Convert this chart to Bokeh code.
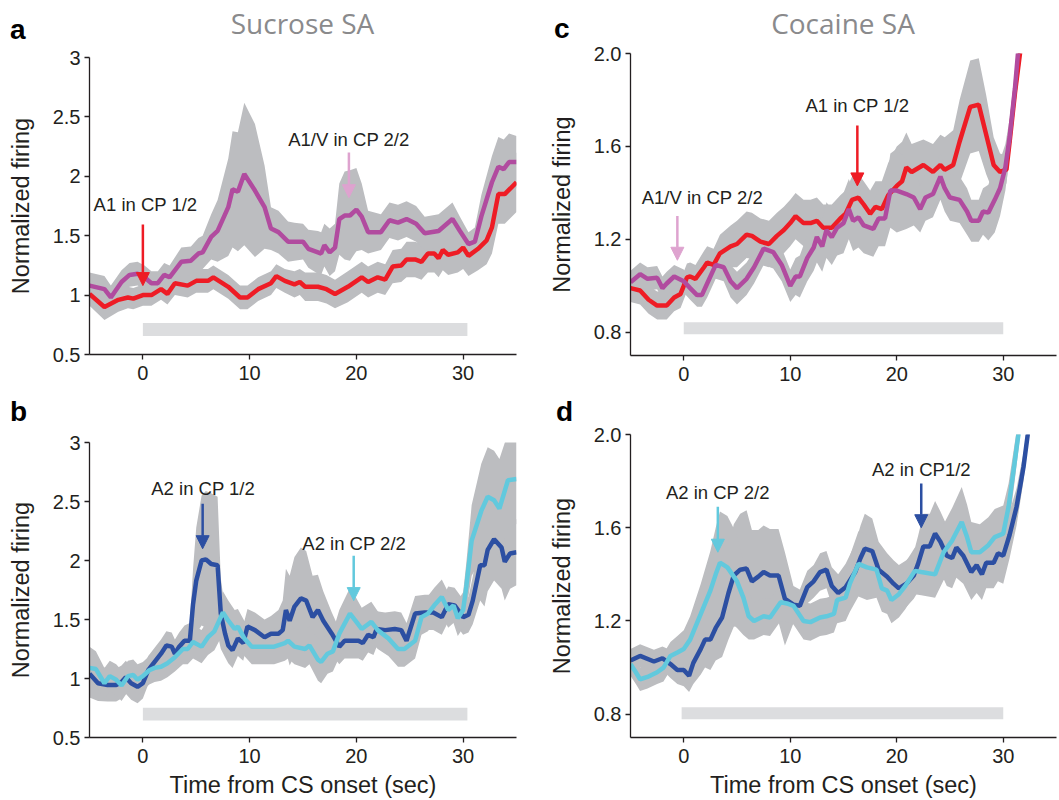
from bokeh.plotting import figure
from bokeh.layouts import row, column
from bokeh.models import Label, Arrow, NormalHead, FixedTicker, Range1d, Div
from bokeh.embed import file_html
from bokeh.resources import INLINE

# ---------------- data ----------------
# Panel a (Sucrose SA): red = A1 in CP 1/2, purple = A1/V in CP 2/2
t_a_red = [-5, -3.6, -2.3, -1.4, -0.9, 0, 0.8, 1.7, 2.3, 3.0, 4.2, 5.0, 6.1, 6.6, 8.0, 9.1, 9.8, 10.8, 12.0, 12.5,
           13.3, 14.2, 14.7, 15.2, 16.4, 17.2, 18.0, 19.2, 20.5, 21.1, 22.0, 22.7, 23.4, 24.2, 24.7, 25.5, 26.1, 26.7, 27.3, 27.7,
           28.1, 28.6, 29.5, 30.0, 30.5, 31.4, 32.2, 32.7, 33.3, 33.9, 35]
a_red = [1.01, 0.90, 0.96, 0.98, 0.97, 1.0, 1.0, 1.05, 1.01, 1.10, 1.08, 1.12, 1.12, 1.15, 1.07, 0.98, 0.98, 1.05, 1.10, 1.16,
         1.12, 1.09, 1.11, 1.07, 1.07, 1.05, 1.01, 1.07, 1.15, 1.11, 1.15, 1.13, 1.24, 1.25, 1.30, 1.30, 1.28, 1.35, 1.35, 1.31,
         1.38, 1.34, 1.36, 1.40, 1.33, 1.39, 1.46, 1.57, 1.85, 1.85, 1.95]
a_red_sem = [0.10, 0.11, 0.10, 0.09, 0.09, 0.09, 0.09, 0.09, 0.09, 0.10, 0.10, 0.10, 0.10, 0.10, 0.10, 0.10, 0.10, 0.10, 0.10, 0.10,
             0.10, 0.11, 0.11, 0.12, 0.12, 0.12, 0.12, 0.13, 0.13, 0.13, 0.13, 0.13, 0.14, 0.14, 0.15, 0.15, 0.15, 0.16, 0.16, 0.16,
             0.17, 0.17, 0.17, 0.18, 0.17, 0.18, 0.20, 0.22, 0.25, 0.25, 0.25]

t_a_pur = [-5, -3.6, -3.0, -2.0, -1.25, -0.5, 0.15, 0.8, 1.4, 2.0, 2.5, 3.6, 4.5, 5.2, 5.6, 6.4, 7.0, 8.0, 8.4, 8.9,
           9.5, 10.5, 11.4, 12.0, 12.7, 13.6, 14.2, 15.0, 15.5, 16.4, 16.7, 17.0, 17.5, 18.0, 18.4, 18.9, 19.4, 20.0, 20.5, 21.1,
           22.3, 23.1, 23.9, 24.7, 25.6, 26.4, 27.7, 29.0, 29.7, 30.5, 31.1, 31.7, 32.7, 33.3, 33.8, 34.3, 35]
a_pur = [1.08, 1.05, 0.98, 1.11, 1.17, 1.18, 1.15, 1.10, 1.10, 1.17, 1.15, 1.28, 1.29, 1.35, 1.36, 1.49, 1.54, 1.74, 1.89, 1.87,
         2.02, 1.88, 1.74, 1.56, 1.53, 1.45, 1.45, 1.45, 1.39, 1.36, 1.35, 1.42, 1.36, 1.40, 1.64, 1.67, 1.67, 1.72, 1.66, 1.53,
         1.53, 1.63, 1.61, 1.64, 1.60, 1.52, 1.54, 1.64, 1.54, 1.43, 1.45, 1.66, 1.95, 2.08, 2.06, 2.12, 2.12]
a_pur_sem = [0.11, 0.11, 0.10, 0.10, 0.10, 0.10, 0.10, 0.10, 0.10, 0.10, 0.10, 0.12, 0.12, 0.13, 0.14, 0.19, 0.26, 0.41, 0.49, 0.50,
             0.60, 0.56, 0.35, 0.18, 0.18, 0.17, 0.16, 0.15, 0.16, 0.18, 0.18, 0.18, 0.20, 0.20, 0.30, 0.37, 0.38, 0.35, 0.28, 0.18,
             0.15, 0.15, 0.15, 0.15, 0.15, 0.14, 0.14, 0.14, 0.12, 0.10, 0.12, 0.18, 0.22, 0.25, 0.25, 0.24, 0.22]

# Panel b (Sucrose SA): dark blue = A2 in CP 1/2, cyan = A2 in CP 2/2
t_b_blue = [-5, -4.2, -3.3, -2.5, -2.0, -1.6, -1.1, -0.5, 0, 0.5, 1.1, 1.7, 2.2, 2.7, 3.0, 3.4, 3.9, 4.4, 4.7, 5.0,
            5.5, 5.9, 6.4, 7.0, 7.3, 7.7, 8.0, 8.4, 8.9, 9.4, 9.8, 10.5, 11.4, 12.0, 12.7, 13.1, 13.4, 13.75, 14.2, 14.8,
            15.3, 15.9, 16.4, 16.9, 17.7, 18.4, 18.9, 20.2, 20.6, 21.1, 21.6, 21.9, 22.7, 23.6, 24.2, 24.7, 25.5, 26.4, 27.2, 28.0,
            28.6, 29.2, 30.0, 30.5, 30.9, 31.6, 32.0, 32.3, 32.9, 33.6, 33.9, 34.4, 35]
b_blue = [1.04, 0.96, 0.945, 0.945, 0.97, 1.01, 0.96, 0.93, 0.96, 1.07, 1.14, 1.21, 1.28, 1.27, 1.21, 1.27, 1.32, 1.32, 1.63, 1.83,
          2.0, 2.01, 1.97, 1.96, 1.55, 1.38, 1.28, 1.24, 1.34, 1.30, 1.44, 1.41, 1.35, 1.38, 1.38, 1.41, 1.58, 1.49, 1.61, 1.68,
          1.66, 1.52, 1.58, 1.49, 1.38, 1.27, 1.32, 1.32, 1.30, 1.37, 1.35, 1.42, 1.41, 1.42, 1.41, 1.32, 1.55, 1.56, 1.56, 1.52,
          1.63, 1.62, 1.52, 1.54, 1.66, 1.96, 1.96, 2.09, 2.18, 2.11, 1.99, 2.06, 2.07]
b_blue_sem = [0.20, 0.15, 0.14, 0.14, 0.14, 0.14, 0.14, 0.14, 0.13, 0.12, 0.12, 0.12, 0.12, 0.12, 0.12, 0.12, 0.13, 0.15, 0.30, 0.45,
              0.55, 0.58, 0.60, 0.58, 0.30, 0.20, 0.15, 0.15, 0.15, 0.15, 0.15, 0.15, 0.15, 0.15, 0.20, 0.25, 0.35, 0.38, 0.42, 0.43,
              0.42, 0.35, 0.30, 0.25, 0.18, 0.15, 0.15, 0.15, 0.15, 0.15, 0.15, 0.15, 0.15, 0.15, 0.15, 0.15, 0.15, 0.15, 0.15, 0.15,
              0.15, 0.15, 0.15, 0.15, 0.20, 0.30, 0.35, 0.35, 0.35, 0.35, 0.33, 0.30, 0.28]

t_b_cyan = [-5, -4.4, -3.6, -3.1, -2.5, -2.0, -1.4, -0.9, -0.5, 0, 0.6, 1.1, 1.7, 2.3, 3.0, 3.75, 4.2, 4.7, 5.5, 6.1,
            6.7, 7.5, 8.0, 8.6, 8.9, 9.5, 10.2, 11.1, 12.3, 13.3, 13.6, 14.2, 15.2, 15.6, 16.4, 16.7, 17.3, 17.8, 18.4, 19.4,
            20.0, 20.5, 21.4, 22.0, 23.0, 23.9, 24.5, 25.5, 26.1, 26.7, 27.3, 28.0, 28.6, 29.1, 29.5, 30.0, 30.3, 30.8, 31.7, 32.3,
            32.9, 33.4, 34.2, 35]
b_cyan = [1.09, 1.08, 0.96, 1.02, 0.99, 0.94, 1.02, 1.03, 0.99, 1.02, 1.07, 1.09, 1.10, 1.13, 1.18, 1.25, 1.25, 1.31, 1.27, 1.35,
          1.40, 1.56, 1.49, 1.42, 1.44, 1.34, 1.27, 1.27, 1.27, 1.30, 1.32, 1.27, 1.25, 1.28, 1.16, 1.14, 1.21, 1.23, 1.38, 1.55,
          1.48, 1.42, 1.48, 1.41, 1.34, 1.25, 1.25, 1.32, 1.52, 1.55, 1.62, 1.69, 1.58, 1.62, 1.51, 1.58, 1.78, 2.17, 2.42, 2.54,
          2.51, 2.44, 2.68, 2.69]
b_cyan_sem = [0.18, 0.15, 0.13, 0.13, 0.13, 0.13, 0.13, 0.13, 0.13, 0.12, 0.12, 0.12, 0.12, 0.12, 0.12, 0.13, 0.13, 0.14, 0.14, 0.15,
              0.16, 0.18, 0.17, 0.16, 0.15, 0.15, 0.15, 0.15, 0.15, 0.15, 0.15, 0.15, 0.16, 0.16, 0.18, 0.18, 0.17, 0.17, 0.20, 0.22,
              0.20, 0.18, 0.17, 0.16, 0.15, 0.15, 0.15, 0.15, 0.15, 0.15, 0.15, 0.15, 0.15, 0.15, 0.15, 0.15, 0.20, 0.30, 0.40, 0.42,
              0.42, 0.42, 0.40, 0.38]

# Panel c (Cocaine SA): red = A1 in CP 1/2, purple = A1/V in CP 2/2
t_c_red = [-5, -4.1, -3.3, -2.5, -1.6, -0.9, -0.3, 0, 0.3, 0.6, 1.1, 1.9, 2.2, 2.8, 3.4, 4.4, 5.0, 5.9, 6.4, 7.2,
           8.0, 8.75, 9.4, 10.0, 10.5, 11.25, 11.9, 12.5, 13.1, 13.9, 14.7, 15.2, 15.8, 16.4, 16.9, 17.5, 18.0, 18.6, 19.2, 20.0,
           20.5, 20.9, 21.4, 22.5, 23.4, 24.1, 24.5, 25.3, 25.9, 26.9, 27.7, 28.4, 29.1, 29.7, 30.3, 30.6, 31.1, 31.6, 31.9]
c_red = [0.99, 0.98, 0.94, 0.915, 0.915, 0.95, 0.965, 1.0, 1.036, 1.04, 1.03, 1.08, 1.10, 1.09, 1.14, 1.17, 1.18, 1.22, 1.215, 1.19,
         1.18, 1.215, 1.24, 1.27, 1.30, 1.27, 1.27, 1.28, 1.25, 1.25, 1.29, 1.31, 1.37, 1.38, 1.35, 1.31, 1.34, 1.33, 1.39, 1.43,
         1.45, 1.51, 1.49, 1.52, 1.49, 1.52, 1.50, 1.52, 1.62, 1.77, 1.78, 1.65, 1.52, 1.49, 1.50, 1.62, 1.83, 2.01, 2.18]
c_red_sem = [0.06, 0.06, 0.06, 0.06, 0.06, 0.06, 0.06, 0.06, 0.06, 0.06, 0.06, 0.07, 0.07, 0.07, 0.08, 0.09, 0.10, 0.10, 0.10, 0.10,
             0.10, 0.10, 0.10, 0.10, 0.10, 0.10, 0.10, 0.10, 0.10, 0.10, 0.10, 0.10, 0.10, 0.10, 0.10, 0.10, 0.11, 0.12, 0.14, 0.17,
             0.17, 0.15, 0.12, 0.11, 0.12, 0.13, 0.14, 0.15, 0.18, 0.20, 0.20, 0.17, 0.12, 0.08, 0.06, 0.06, 0.06, 0.06, 0.06]

t_c_pur = [-5, -4.1, -3.4, -2.5, -2.0, -1.6, -0.9, 0, 0.6, 1.25, 1.7, 2.2, 3.0, 3.75, 4.4, 5.0, 5.9, 6.6, 7.5, 8.4,
           9.2, 10.0, 10.5, 10.9, 11.6, 12.2, 12.5, 13.0, 13.4, 13.9, 14.4, 15.0, 15.5, 15.9, 16.4, 16.9, 17.8, 18.3, 18.9, 19.4,
           20.0, 20.9, 21.6, 22.2, 22.7, 23.4, 24.1, 24.5, 25.0, 25.9, 26.6, 27.0, 27.7, 28.1, 28.6, 29.2, 29.7, 30.2, 30.6, 31.1,
           31.4, 31.7]
c_pur = [1.015, 1.05, 1.03, 1.035, 0.99, 1.01, 1.04, 1.02, 0.99, 0.96, 0.96, 1.01, 1.09, 1.08, 1.02, 0.99, 1.03, 1.08, 1.16, 1.145,
         1.09, 1.0, 1.04, 1.04, 1.12, 1.165, 1.21, 1.17, 1.24, 1.21, 1.25, 1.27, 1.33, 1.28, 1.295, 1.26, 1.245, 1.29, 1.29, 1.41,
         1.41, 1.395, 1.38, 1.33, 1.38, 1.395, 1.47, 1.42, 1.38, 1.37, 1.32, 1.28, 1.28, 1.32, 1.315, 1.37, 1.42, 1.51, 1.64, 1.85,
         2.01, 2.15]
c_pur_sem = [0.05, 0.05, 0.05, 0.05, 0.05, 0.05, 0.05, 0.05, 0.05, 0.05, 0.05, 0.06, 0.06, 0.06, 0.07, 0.07, 0.07, 0.07, 0.07, 0.07,
             0.07, 0.07, 0.08, 0.09, 0.10, 0.10, 0.11, 0.11, 0.12, 0.12, 0.12, 0.13, 0.13, 0.13, 0.13, 0.12, 0.12, 0.12, 0.12, 0.16,
             0.18, 0.15, 0.12, 0.10, 0.10, 0.10, 0.10, 0.10, 0.10, 0.10, 0.10, 0.09, 0.09, 0.10, 0.12, 0.14, 0.12, 0.10, 0.08, 0.08,
             0.08, 0.08]

# Panel d (Cocaine SA): dark blue = A2 in CP 1/2, cyan = A2 in CP 2/2
t_d_blue = [-5, -4.1, -2.8, -2.0, -1.25, -0.6, 0, 0.5, 0.9, 1.6, 2.0, 2.5, 3.0, 3.6, 4.2, 4.7, 5.3, 5.9, 6.4, 7.0,
            7.5, 8.1, 8.9, 9.5, 10.3, 10.9, 11.6, 12.2, 12.8, 13.4, 13.9, 14.5, 15.2, 16.1, 16.6, 17.0, 17.7, 18.3, 19.1, 19.7,
            20.2, 20.9, 21.6, 22.0, 22.5, 23.1, 23.6, 24.1, 24.7, 25.2, 25.6, 26.25, 27.0, 27.5, 28.0, 28.4, 29.1, 29.5, 30.0, 30.6,
            31.25, 31.9, 32.3, 32.5]
d_blue = [1.03, 1.05, 1.026, 1.04, 1.015, 0.99, 0.99, 0.965, 1.02, 1.08, 1.12, 1.12, 1.17, 1.215, 1.32, 1.395, 1.42, 1.425, 1.37, 1.39,
          1.41, 1.395, 1.395, 1.295, 1.27, 1.265, 1.345, 1.37, 1.41, 1.42, 1.35, 1.32, 1.345, 1.41, 1.47, 1.51, 1.50, 1.42, 1.39, 1.36,
          1.34, 1.36, 1.395, 1.445, 1.52, 1.52, 1.575, 1.54, 1.48, 1.47, 1.515, 1.48, 1.41, 1.44, 1.40, 1.45, 1.45, 1.49, 1.48, 1.57,
          1.69, 1.86, 2.0, 2.09]
d_blue_sem = [0.05, 0.05, 0.05, 0.05, 0.06, 0.06, 0.07, 0.07, 0.09, 0.11, 0.12, 0.13, 0.14, 0.17, 0.20, 0.22, 0.24, 0.25, 0.22, 0.20,
              0.20, 0.20, 0.20, 0.20, 0.08, 0.07, 0.07, 0.07, 0.08, 0.08, 0.08, 0.08, 0.10, 0.12, 0.14, 0.15, 0.14, 0.12, 0.10, 0.10,
              0.10, 0.10, 0.10, 0.12, 0.14, 0.14, 0.14, 0.13, 0.13, 0.13, 0.13, 0.12, 0.12, 0.12, 0.11, 0.11, 0.11, 0.12, 0.12, 0.10,
              0.08, 0.06, 0.05, 0.05]

t_d_cyan = [-5, -4.5, -4.1, -3.4, -2.5, -1.9, -1.25, -0.6, 0, 0.6, 1.6, 2.5, 3.0, 3.4, 4.1, 5.0, 5.6, 6.1, 6.6, 7.5,
            8.1, 9.1, 9.7, 10.3, 11.25, 11.9, 12.8, 13.4, 14.1, 14.4, 15.2, 15.6, 16.4, 17.2, 18.1, 18.6, 19.1, 19.5, 20.2, 20.8,
            21.7, 22.3, 23.6, 24.4, 25.2, 26.1, 26.6, 27.0, 27.8, 28.6, 29.2, 30.0, 30.5, 31.1, 31.6]
d_cyan = [1.015, 0.98, 0.95, 0.96, 0.98, 1.0, 1.05, 1.065, 1.08, 1.12, 1.23, 1.33, 1.40, 1.45, 1.43, 1.37, 1.30, 1.22, 1.20, 1.22,
          1.215, 1.28, 1.275, 1.265, 1.20, 1.195, 1.215, 1.22, 1.23, 1.29, 1.30, 1.36, 1.445, 1.43, 1.42, 1.34, 1.33, 1.29, 1.315, 1.35,
          1.415, 1.41, 1.40, 1.495, 1.545, 1.625, 1.56, 1.495, 1.495, 1.525, 1.56, 1.575, 1.69, 1.89, 2.06]
d_cyan_sem = [0.05, 0.05, 0.05, 0.05, 0.05, 0.06, 0.06, 0.07, 0.08, 0.10, 0.13, 0.17, 0.20, 0.22, 0.22, 0.20, 0.16, 0.10, 0.08, 0.08,
              0.08, 0.08, 0.08, 0.08, 0.08, 0.08, 0.08, 0.08, 0.08, 0.10, 0.10, 0.12, 0.14, 0.14, 0.12, 0.10, 0.10, 0.10, 0.10, 0.10,
              0.10, 0.10, 0.10, 0.12, 0.14, 0.15, 0.14, 0.13, 0.12, 0.12, 0.12, 0.12, 0.10, 0.08, 0.06]

# CS presentation period (sec) per panel a, b, c, d
cs_start = [0, 0, 0, -0.2]
cs_end = [30.4, 30.4, 30.0, 30.0]

# axis ticks
x_ticks = [0, 10, 20, 30]
y_ticks_suc = [0.5, 1, 1.5, 2, 2.5, 3]
y_labels_suc = ["0.5", "1", "1.5", "2", "2.5", "3"]
y_ticks_coc = [0.8, 1.2, 1.6, 2.0]
y_labels_coc = ["0.8", "1.2", "1.6", "2.0"]

# annotations: (arrow x, arrow start y, arrow tip y, text x, text y, text)
ann_a = [(0.0, 1.595, 1.08, 0.25, 1.76, "A1 in CP 1/2"), (19.3, 2.20, 1.82, 19.3, 2.31, "A1/V in CP 2/2")]
ann_b = [(5.6, 2.48, 2.10, 5.65, 2.61, "A2 in CP 1/2"), (19.75, 2.04, 1.66, 19.8, 2.14, "A2 in CP 2/2")]
ann_c = [(-0.6, 1.30, 1.11, 1.75, 1.38, "A1/V in CP 2/2"), (16.3, 1.69, 1.43, 16.3, 1.775, "A1 in CP 1/2")]
ann_d = [(3.2, 1.69, 1.495, 3.2, 1.75, "A2 in CP 2/2"), (22.3, 1.79, 1.60, 22.3, 1.85, "A2 in CP1/2")]

# ---------------- styles ----------------
RED = "#ee1c25"
PURPLE = "#b14b9f"
PINK = "#dea3cf"
BLUE = "#2c4fa2"
CYAN = "#62c9dd"
BAND = "#bcbdc0"
BARC = "#dcdddf"
INK = "#231f20"
TITLE_GRAY = "#8a8a8c"
FONT = "Liberation Sans"


def make_fig(width, height, bl, br, bt, bb, yr, yticks, ylabels, xlabel):
    p = figure(width=width, height=height, x_range=Range1d(-5, 35), y_range=Range1d(*yr),
               output_backend="svg", toolbar_location=None, frame_align=False,
               min_border_left=bl, min_border_right=br, min_border_top=bt, min_border_bottom=bb)
    p.outline_line_color = None
    p.grid.visible = False
    p.background_fill_color = "white"
    p.border_fill_color = "white"
    p.xaxis.ticker = FixedTicker(ticks=x_ticks)
    p.yaxis.ticker = FixedTicker(ticks=yticks)
    p.yaxis.major_label_overrides = {t: l for t, l in zip(yticks, ylabels)}
    for ax in (p.xaxis, p.yaxis):
        ax.axis_line_color = INK
        ax.axis_line_width = 1.3
        ax.major_tick_line_color = INK
        ax.major_tick_line_width = 1.3
        ax.major_tick_out = 5
        ax.major_tick_in = 0
        ax.minor_tick_line_color = None
        ax.major_label_text_font = FONT
        ax.major_label_text_font_size = "20px"
        ax.major_label_text_color = INK
        ax.axis_label_text_font = FONT
        ax.axis_label_text_font_size = "23.5px"
        ax.axis_label_text_font_style = "normal"
        ax.axis_label_text_color = INK
    p.xaxis.major_label_standoff = 6
    p.yaxis.major_label_standoff = 4
    p.yaxis.axis_label = "Normalized firing"
    p.yaxis.axis_label_standoff = 16
    if xlabel:
        p.xaxis.axis_label = xlabel
        p.xaxis.axis_label_standoff = 6
    return p


def band(p, t, m, s):
    lo = [a - b for a, b in zip(m, s)]
    hi = [a + b for a, b in zip(m, s)]
    p.varea(x=t, y1=lo, y2=hi, fill_color=BAND)


def cs_bar(p, i, y0, y1):
    p.quad(left=[cs_start[i]], right=[cs_end[i]], bottom=[y0], top=[y1], fill_color=BARC, line_color=None)


def annotate(p, anns, colors):
    for (ax_, ys, ye, tx, ty, txt), c in zip(anns, colors):
        p.add_layout(Arrow(end=NormalHead(size=13, fill_color=c, line_color=c, line_width=1),
                           x_start=ax_, y_start=ys, x_end=ax_, y_end=ye, line_color=c, line_width=2.5))
        p.add_layout(Label(x=tx, y=ty, text=txt, text_font=FONT, text_font_size="18.5px", text_color=INK,
                           text_align="center", text_baseline="middle"))


def letter_span(txt, left, top, lh=32):
    return (f'<span style="position:absolute;left:{left}px;top:{top}px;font-family:\'Liberation Sans\';'
            f'font-weight:bold;font-size:28px;line-height:{lh}px;color:#000;">{txt}</span>')


def title_span(txt, left, width, top):
    return (f'<span style="position:absolute;left:{left}px;top:{top}px;width:{width}px;text-align:center;'
            f'font-family:\'Open Sans\';font-size:28px;line-height:36px;color:{TITLE_GRAY};'
            f'white-space:nowrap;">{txt}</span>')


def header(width, height, parts):
    html = (f'<div style="position:relative;width:{width}px;height:{height}px;overflow:visible;margin:0;padding:0;">'
            + "".join(parts) + '</div>')
    return Div(text=html, width=width, height=height, margin=0)


WL, WR = 529, 530

# ---- panel a ----
pa = make_fig(WL, 360, 89, 13, 17, 46, (0.5, 3.0), y_ticks_suc, y_labels_suc, None)
band(pa, t_a_red, a_red, a_red_sem)
band(pa, t_a_pur, a_pur, a_pur_sem)
cs_bar(pa, 0, 0.655, 0.765)
pa.line(t_a_red, a_red, line_color=RED, line_width=4.5)
pa.line(t_a_pur, a_pur, line_color=PURPLE, line_width=4.5)
annotate(pa, ann_a, [RED, PINK])

# ---- panel c ----
pc = make_fig(WR, 360, 101, 3, 13, 45, (0.7, 2.0), y_ticks_coc, y_labels_coc, None)
band(pc, t_c_red, c_red, c_red_sem)
band(pc, t_c_pur, c_pur, c_pur_sem)
cs_bar(pc, 2, 0.791, 0.843)
pc.line(t_c_red, c_red, line_color=RED, line_width=4.5)
pc.line(t_c_pur, c_pur, line_color=PURPLE, line_width=4.5)
annotate(pc, ann_c, [PINK, RED])

# ---- panel b ----
pb = make_fig(WL, 378, 89, 13, 20, 62, (0.5, 3.0), y_ticks_suc, y_labels_suc, "Time from CS onset (sec)")
band(pb, t_b_blue, b_blue, b_blue_sem)
band(pb, t_b_cyan, b_cyan, b_cyan_sem)
cs_bar(pb, 1, 0.644, 0.753)
pb.line(t_b_blue, b_blue, line_color=BLUE, line_width=4.5)
pb.line(t_b_cyan, b_cyan, line_color=CYAN, line_width=4.5)
annotate(pb, ann_b, [BLUE, CYAN])

# ---- panel d ----
pd_ = make_fig(WR, 378, 101, 3, 12, 63, (0.7, 2.0), y_ticks_coc, y_labels_coc, "Time from CS onset (sec)")
band(pd_, t_d_blue, d_blue, d_blue_sem)
band(pd_, t_d_cyan, d_cyan, d_cyan_sem)
cs_bar(pd_, 3, 0.778, 0.83)
pd_.line(t_d_blue, d_blue, line_color=BLUE, line_width=4.5)
pd_.line(t_d_cyan, d_cyan, line_color=CYAN, line_width=4.5)
annotate(pd_, ann_d, [CYAN, BLUE])

# ---- headers (panel letters and column titles) ----
h_a = header(WL, 40, [letter_span("a", 10, 14), title_span("Sucrose SA", 89, 427, 5)])
h_c = header(WR, 40, [letter_span("c", 25, 13), title_span("Cocaine SA", 101, 426, 5)])
h_b = header(WL, 22, [letter_span("b", 10, 1, 22)])
h_d = header(WR, 22, [letter_span("d", 27, 1, 22)])

layout = column(row(h_a, h_c), row(pa, pc), row(h_b, h_d), row(pb, pd_))
open("out.html", "w").write(file_html(layout, INLINE))
